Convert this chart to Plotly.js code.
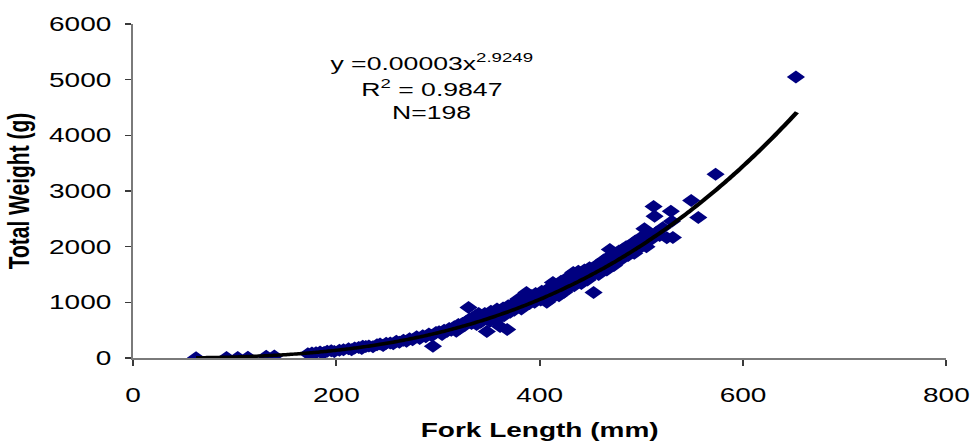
<!DOCTYPE html>
<html>
<head>
<meta charset="utf-8">
<script src="https://cdn.plot.ly/plotly-3.0.1.min.js"></script>
<style>
  html, body { margin: 0; padding: 0; background: #ffffff; overflow: hidden; }
  /* the chart is laid out narrow and widened horizontally */
  #chart { width: 693px; height: 441px; transform: scaleX(1.4); transform-origin: 0 0; }
</style>
</head>
<body>
<div id="chart"></div>
<script>
// Fork length (mm) of each fish
const forkLength = [
  62, 92, 103, 113, 131, 139,
  172, 176, 180, 184, 187, 188, 191, 195, 198, 203, 207,
  212, 215, 218, 222, 225, 226, 229, 232, 236, 240, 243, 246, 249,
  253, 256, 259, 262, 266, 269, 272, 275, 279, 282, 285, 288, 291, 294, 295, 298,
  301, 304, 306, 309, 311, 313, 316, 318, 320, 322, 324, 326, 328, 330, 331, 333, 334, 336, 337, 338, 339, 340,
  342, 343, 345, 346, 348, 349, 351, 352, 354, 355, 357, 358, 360, 361, 362, 364, 365, 366, 368, 369, 371, 372, 374, 375, 377, 378, 379, 380,
  382, 383, 385, 386, 387, 389, 390, 392, 393, 395, 396, 398, 399, 401, 402, 404, 405, 407, 408, 410, 411, 412, 413, 414, 416, 417, 418, 419, 420, 421,
  423, 424, 426, 427, 429, 430, 432, 433, 434, 436, 437, 438, 440, 441, 443, 444, 446, 447, 449, 450, 452, 453, 454, 455, 457, 458, 459, 460,
  462, 463, 465, 466, 468, 469, 470, 472, 473, 475, 476, 478, 479, 481, 482, 484, 485, 487, 488, 490, 491, 493, 494, 496, 497, 499,
  501, 503, 505, 507, 509, 512, 513, 515, 518, 521, 525, 529, 530, 531, 549, 556,
  573, 652
];

// Total weight (g) of each fish, same order
const totalWeight = [
  3, 8, 10, 14, 30, 38,
  75, 90, 95, 110, 85, 98, 120, 130, 115, 140, 150,
  165, 150, 180, 190, 170, 210, 205, 215, 200, 240, 250, 225, 265,
  270, 255, 300, 285, 320, 300, 345, 330, 380, 350, 400, 380, 430, 400, 210, 460,
  470, 420, 500, 480, 530, 500, 560, 480, 600, 540, 620, 580, 660, 905, 700, 620, 720, 660, 760, 600, 700, 800,
  640, 760, 700, 800, 476, 730, 660, 840, 760, 700, 800, 880, 720, 566, 820, 900, 760, 860, 512, 940, 820, 900, 980, 860, 1000, 920, 1060, 950,
  880, 1000, 1100, 960, 1176, 1040, 980, 1120, 1060, 1000, 1160, 1080, 1120, 1040, 1200, 1100, 1160, 1000, 1240, 1050, 1180, 1280, 1356, 1140, 1260, 1200, 1320, 1120, 1240, 1380,
  1300, 1180, 1420, 1340, 1260, 1480, 1400, 1536, 1300, 1460, 1380, 1560, 1440, 1340, 1500, 1580, 1460, 1400, 1620, 1520, 1480, 1176, 1640, 1560, 1680, 1500, 1600, 1700,
  1620, 1760, 1680, 1580, 1820, 1950, 1720, 1800, 1660, 1880, 1760, 1920, 1840, 1780, 1960, 1880, 2000, 1840, 1940, 2040, 1960, 1880, 2100, 2020, 1960, 2160,
  2080, 2320, 2000, 2200, 2120, 2720, 2547, 2260, 2200, 2340, 2160, 2637, 2457, 2164, 2829, 2525,
  3300, 5050
];

// Power trend fitted to the sample: W = a * L^b
const trendCoef = 0.0000258;
const trendExp = 2.9249;
const rSquared = 0.9847;
const trendStart = 62;
const trendEnd = 653;

// Axis ticks
const xTicks = [0, 200, 400, 600, 800];
const yTicks = [0, 1000, 2000, 3000, 4000, 5000, 6000];

const trendX = [];
const trendY = [];
for (let L = trendStart; L <= trendEnd; L += 3) {
  trendX.push(L);
  trendY.push(trendCoef * Math.pow(L, trendExp));
}

const fish = {
  x: forkLength,
  y: totalWeight,
  type: 'scatter',
  mode: 'markers',
  marker: { symbol: 'diamond', size: 10, color: '#000080', line: { width: 0 } },
  hoverinfo: 'x+y'
};

const trend = {
  x: trendX,
  y: trendY,
  type: 'scatter',
  mode: 'lines',
  line: { color: '#000000', width: 3.5, shape: 'spline' },
  hoverinfo: 'skip'
};

const tickFont = { family: '"Liberation Sans", Arial, sans-serif', size: 20, color: '#000000' };
const titleFont = { family: '"Liberation Sans", Arial, sans-serif', size: 20, color: '#000000', weight: 'bold' };
const noteFont = { family: '"Liberation Sans", Arial, sans-serif', size: 19, color: '#000000' };

const axisCommon = {
  showgrid: false,
  zeroline: false,
  showline: true,
  linecolor: '#7a7a7a',
  linewidth: 1.5,
  ticks: 'outside',
  tickcolor: '#3a3a3a',
  tickwidth: 1.5,
  tickfont: tickFont,
  fixedrange: true
};

const layout = {
  width: 693,
  height: 441,
  margin: { l: 95.4, r: 17.1, t: 24, b: 82.5 },
  paper_bgcolor: '#ffffff',
  plot_bgcolor: '#ffffff',
  showlegend: false,
  xaxis: Object.assign({}, axisCommon, {
    range: [0, 800],
    tickvals: xTicks,
    ticktext: xTicks.map(String),
    ticklen: 6,
    ticklabelstandoff: 13,
    title: { text: 'Fork Length (mm)', font: titleFont, standoff: 17 }
  }),
  yaxis: Object.assign({}, axisCommon, {
    range: [0, 6000],
    tickvals: yTicks,
    ticktext: yTicks.map(String),
    ticklen: 4,
    ticklabelstandoff: 6,
    title: { text: 'Total Weight (g)', font: Object.assign({}, titleFont, { size: 21 }), standoff: 8 }
  }),
  annotations: [
    {
      xref: 'paper', yref: 'paper', x: 0.367, y: 0.886,
      text: 'y =' + trendCoef.toFixed(5) + 'x<sup>' + trendExp.toFixed(4) + '</sup>',
      showarrow: false, font: noteFont, xanchor: 'center', yanchor: 'middle'
    },
    {
      xref: 'paper', yref: 'paper', x: 0.367, y: 0.809,
      text: 'R<sup>2</sup> = ' + rSquared.toFixed(4),
      showarrow: false, font: noteFont, xanchor: 'center', yanchor: 'middle'
    },
    {
      xref: 'paper', yref: 'paper', x: 0.367, y: 0.734,
      text: 'N=' + forkLength.length,
      showarrow: false, font: noteFont, xanchor: 'center', yanchor: 'middle'
    }
  ]
};

Plotly.newPlot('chart', [fish, trend], layout, { displayModeBar: false, staticPlot: true });
</script>
</body>
</html>
